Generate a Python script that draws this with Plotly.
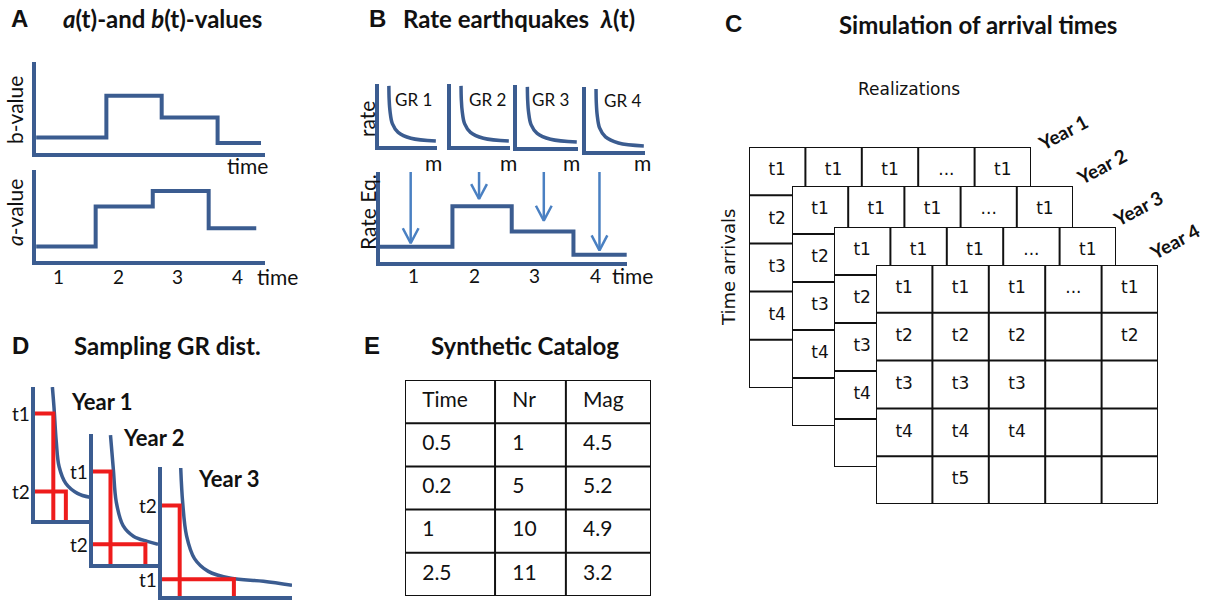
import plotly.graph_objects as go

W, H = 1211, 601

# ------------------------------------------------------------------ data
time_ticks = ["1", "2", "3", "4"]

# A: step functions of b(t) and a(t), normalised units
b_edges = [0.62, 1.80, 2.73, 3.67, 4.40]
b_levels = [0.17, 0.63, 0.39, 0.11]
a_edges = [0.62, 1.62, 2.58, 3.52, 4.32]
a_levels = [0.16, 0.60, 0.77, 0.36]

# B: Gutenberg-Richter curves, magnitude vs normalised rate
gr_labels = ["GR 1", "GR 2", "GR 3", "GR 4"]
gr_mag = [0.17, 0.175, 0.19, 0.23, 0.33, 0.55, 0.98]
gr_rate = [0.97, 0.75, 0.56, 0.36, 0.22, 0.125, 0.08]

# B: resulting earthquake rate per period
rate_edges = [0.44, 1.64, 2.62, 3.64, 4.52]
rate_levels = [0.17, 0.62, 0.34, 0.08]
arrow_times = [0.95, 2.08, 3.15, 4.07]
arrow_tips = [0.21, 0.70, 0.46, 0.13]

# C: simulated arrival times per year (None = cell not shown)
realizations = ["1", "2", "3", "...", "Nr"]
year_names = ["Year 1", "Year 2", "Year 3", "Year 4"]
arrivals_back = [
    ["t1", "t1", "t1", "...", "t1"],
    ["t2", None, None, None, None],
    ["t3", None, None, None, None],
    ["t4", None, None, None, None],
    ["", None, None, None, None],
]
arrivals_year4 = [
    ["t1", "t1", "t1", "...", "t1"],
    ["t2", "t2", "t2", "", "t2"],
    ["t3", "t3", "t3", "", ""],
    ["t4", "t4", "t4", "", ""],
    ["", "t5", "", "", ""],
]
arrivals = [arrivals_back, arrivals_back, arrivals_back, arrivals_year4]

# D: sampled GR distributions per year
sampling_years = ["Year 1", "Year 2", "Year 3"]
d_curve_mag = [
    [0.316, 0.346, 0.386, 0.439, 0.561, 0.772, 1.0],
    [0.269, 0.313, 0.358, 0.463, 0.627, 0.836, 1.0],
    [0.144, 0.159, 0.189, 0.25, 0.356, 0.53, 0.78, 1.0],
]
d_curve_rate = [
    [1.0, 0.844, 0.593, 0.40, 0.274, 0.20, 0.17],
    [0.992, 0.727, 0.477, 0.295, 0.212, 0.174, 0.152],
    [0.992, 0.725, 0.466, 0.29, 0.191, 0.137, 0.115, 0.084],
]
d_sample_names = [["t1", "t2"], ["t1", "t2"], ["t2", "t1"]]
d_sample_rate = [[0.80, 0.215], [0.712, 0.152], [0.702, 0.13]]
d_sample_mag = [[0.333, 0.561], [0.269, 0.806], [0.136, 0.553]]

# E: synthetic catalogue
catalog_header = ["Time", "Nr", "Mag"]
catalog_time = ["0.5", "0.2", "1", "2.5"]
catalog_nr = ["1", "5", "10", "11"]
catalog_mag = ["4.5", "5.2", "4.9", "3.2"]

# ------------------------------------------------------------------ style
BLUE = "#3b5c90"
ARROW_BLUE = "#4a80c2"
RED = "#ee1c1c"
INK = "#111111"
FRAME_W = 4
SANS = "Lato"
CELL = "DejaVu Sans"
LETTER = "Liberation Sans"
TITLE_SIZE = 24
LABEL_SIZE = 21
LETTER_SIZE = 24

fig = go.Figure()
axes_layout = {}
n_axes = [0]


def new_axes(box, xr, yr, frame=False):
    """Add an x/y axis pair placed over a pixel box (left, top, right, bottom)."""
    n_axes[0] += 1
    n = n_axes[0]
    sfx = "" if n == 1 else str(n)
    x0, y0, x1, y1 = box
    off = FRAME_W / 2 if frame else 0
    common = dict(showgrid=False, zeroline=False, showticklabels=False,
                  ticks="", showline=frame, linecolor=BLUE,
                  linewidth=FRAME_W, fixedrange=True)
    axes_layout["xaxis" + sfx] = dict(domain=[(x0 + off) / W, x1 / W],
                                      range=xr, anchor="y" + sfx, **common)
    axes_layout["yaxis" + sfx] = dict(domain=[1 - (y1 - off) / H, 1 - y0 / H],
                                      range=yr, anchor="x" + sfx, **common)
    return "x" + sfx, "y" + sfx


def line(xa, ya, x, y, color=BLUE, width=4, shape="linear", **kw):
    fig.add_trace(go.Scatter(x=x, y=y, xaxis=xa, yaxis=ya, mode="lines",
                             line=dict(color=color, width=width, shape=shape),
                             hoverinfo="skip", showlegend=False,
                             cliponaxis=False, **kw))


annotations = []


def label(text, x, y, size=17, bold=False, family=SANS, angle=0,
          xanchor="center", yanchor="middle", xref="paper", yref="paper",
          xshift=0, color=INK):
    if xref == "paper":
        x = x / W
    if yref == "paper":
        y = 1 - y / H
    if bold:
        text = "<b>" + text + "</b>"
    annotations.append(dict(text=text, x=x, y=y, xref=xref, yref=yref,
                            showarrow=False, textangle=angle,
                            xanchor=xanchor, yanchor=yanchor, xshift=xshift,
                            font=dict(size=size, family=family, color=color)))


# ------------------------------------------------------------------ A
TIME_RANGE_A = [0.617, 4.467]
xa, ya = new_axes((34, 62, 265, 155), TIME_RANGE_A, [0, 1], frame=True)
line(xa, ya, b_edges, b_levels + b_levels[-1:], shape="hv")
xa, ya = new_axes((34, 170, 265, 263), TIME_RANGE_A, [0, 1], frame=True)
line(xa, ya, a_edges, a_levels + a_levels[-1:], shape="hv")
for i, t in enumerate(time_ticks):
    label(t, i + 1, 276, size=19, xref=xa)

label("A", 19, 19, size=LETTER_SIZE, bold=True, family=LETTER)
label("<i>a</i>(t)-and <i>b</i>(t)-values", 162, 19, size=TITLE_SIZE,
      bold=True)
label("b-value", 14, 110, size=LABEL_SIZE, angle=-90)
label("<i>a</i>-value", 14, 213, size=LABEL_SIZE, angle=-90)
label("time", 247, 165, size=LABEL_SIZE)
label("time", 277, 276, size=LABEL_SIZE)

# ------------------------------------------------------------------ B
gr_boxes = [(377, 84, 437, 148), (449, 84, 510, 148),
            (515, 85, 578, 149), (584, 87, 645, 153)]
gr_label_pos = [(413, 100), (488, 100), (550, 100), (622, 101)]
m_label_pos = [(433, 162), (508, 162), (571, 162), (642, 162)]
for box, name, lp, mp in zip(gr_boxes, gr_labels, gr_label_pos, m_label_pos):
    xa, ya = new_axes(box, [0, 1], [0, 1], frame=True)
    line(xa, ya, gr_mag, gr_rate, width=3.5, shape="spline")
    label(name, lp[0], lp[1], size=17)
    label("m", mp[0], mp[1], size=LABEL_SIZE)

TIME_RANGE_B = [0.443, 4.525]
xa, ya = new_axes((378, 172, 627, 264), TIME_RANGE_B, [0, 1], frame=True)
line(xa, ya, rate_edges, rate_levels + rate_levels[-1:], shape="hv")

ARROW_TOP = 1.07
HEAD_DX, HEAD_DY = 0.13, 0.165
ax_x, ax_y = [], []
for t, tip in zip(arrow_times, arrow_tips):
    ax_x += [t, t, None, t - HEAD_DX, t, t + HEAD_DX, None]
    ax_y += [ARROW_TOP, tip, None, tip + HEAD_DY, tip, tip + HEAD_DY, None]
line(xa, ya, ax_x, ax_y, color=ARROW_BLUE, width=2.5, connectgaps=False)
for i, t in enumerate(time_ticks):
    label(t, i + 1, 275, size=19, xref=xa)

label("B", 377, 19, size=LETTER_SIZE, bold=True, family=LETTER)
label("Rate earthquakes  <i>λ</i>(t)", 519, 19, size=TITLE_SIZE, bold=True)
label("rate", 366, 119, size=LABEL_SIZE, angle=-90)
label("Rate Eq.", 367, 212, size=LABEL_SIZE, angle=-90)
label("time", 632, 275, size=LABEL_SIZE)

# ------------------------------------------------------------------ C
year_boxes = [(749, 147, 1031, 388), (792, 186, 1073, 426),
              (834, 227, 1116, 467), (876, 265, 1158, 504)]
year_label_pos = [(1062, 132), (1101, 167), (1137, 208), (1174, 242)]
year_axes = []
for box, grid in zip(year_boxes, arrivals):
    n_rows, n_cols = len(grid), len(grid[0])
    xa, ya = new_axes(box, [0, n_cols], [n_rows, 0])
    year_axes.append((xa, ya))
    # opaque sheet
    line(xa, ya, [0, n_cols, n_cols, 0, 0], [0, 0, n_rows, n_rows, 0],
         width=0, fill="toself", fillcolor="white")
    gx, gy = [], []
    for r in range(n_rows + 1):
        gx += [0, n_cols, None]
        gy += [r, r, None]
    for c in range(n_cols + 1):
        gx += [c, c, None]
        gy += [0, n_rows, None]
    line(xa, ya, gx, gy, color=INK, width=2)
    tx, ty, tt = [], [], []
    for r, row in enumerate(grid):
        for c, cell in enumerate(row):
            if cell:
                tx.append(c + 0.5)
                ty.append(r + 0.5)
                tt.append(cell)
    fig.add_trace(go.Scatter(x=tx, y=ty, text=tt, mode="text", xaxis=xa,
                             yaxis=ya, textfont=dict(size=17, family=CELL,
                                                     color=INK),
                             hoverinfo="skip", showlegend=False,
                             cliponaxis=False))

x1a, y1a = year_axes[0]
for c, name in enumerate(realizations):
    label(name, c + 0.5, -0.4, size=16, family=CELL, xref=x1a, yref=y1a)
for name, pos in zip(year_names, year_label_pos):
    label(name, pos[0], pos[1], size=19, bold=True, angle=-28)

label("C", 734, 24, size=LETTER_SIZE, bold=True, family=LETTER)
label("Simulation of arrival times", 978, 25, size=TITLE_SIZE, bold=True)
label("Realizations", 909, 89, size=17, family=CELL)
label("Time arrivals", 728, 268, size=18, family=CELL, angle=-90)

# ------------------------------------------------------------------ D
d_boxes = [(33, 387, 90, 522), (91, 434, 158, 566), (160, 467, 292, 598)]
d_year_pos = [(0.61, 0.89), (0.43, 0.97), (0.265, 0.91)]
for k in range(3):
    xa, ya = new_axes(d_boxes[k], [0, 1], [0, 1], frame=True)
    line(xa, ya, d_curve_mag[k], d_curve_rate[k], width=3.5,
         shape="spline")
    rx, ry = [], []
    for m, r in zip(d_sample_mag[k], d_sample_rate[k]):
        rx += [0, m, m, None]
        ry += [r, r, 0, None]
    line(xa, ya, rx, ry, color=RED, width=4, connectgaps=False)
    for name, r in zip(d_sample_names[k], d_sample_rate[k]):
        label(name, 0, r, size=19, xref=xa, yref=ya, xanchor="right",
              xshift=-3)
    label(sampling_years[k], d_year_pos[k][0], d_year_pos[k][1], size=22,
          bold=True, xref=xa, yref=ya, xanchor="left")

label("D", 20, 345, size=LETTER_SIZE, bold=True, family=LETTER)
label("Sampling GR dist.", 168, 345, size=TITLE_SIZE, bold=True)

# ------------------------------------------------------------------ E
CAT_EDGES = [0, 0.366, 0.654, 1.0]
CAT_PAD = 0.07
catalog_cols = [catalog_time, catalog_nr, catalog_mag]
n_rows = len(catalog_time) + 1
xa, ya = new_axes((405, 380, 651, 596), [0, 1], [n_rows, 0])
gx, gy = [], []
for r in range(n_rows + 1):
    gx += [0, 1, None]
    gy += [r, r, None]
for e in CAT_EDGES:
    gx += [e, e, None]
    gy += [0, n_rows, None]
line(xa, ya, gx, gy, color=INK, width=2)
tx, ty, tt = [], [], []
for c, (head, col) in enumerate(zip(catalog_header, catalog_cols)):
    for r, cell in enumerate([head] + col):
        tx.append(CAT_EDGES[c] + CAT_PAD)
        ty.append(r + 0.5)
        tt.append(cell)
fig.add_trace(go.Scatter(x=tx, y=ty, text=tt, mode="text",
                         textposition="middle right", xaxis=xa, yaxis=ya,
                         textfont=dict(size=21, family=SANS, color=INK),
                         hoverinfo="skip", showlegend=False,
                         cliponaxis=False))

label("E", 372, 345, size=LETTER_SIZE, bold=True, family=LETTER)
label("Synthetic Catalog", 525, 345, size=TITLE_SIZE, bold=True)

fig.update_layout(
    width=W, height=H, margin=dict(l=0, r=0, t=0, b=0),
    paper_bgcolor="white", plot_bgcolor="rgba(0,0,0,0)",
    showlegend=False, hovermode=False, annotations=annotations,
    **axes_layout,
)
fig.write_html("out.html", config={"displayModeBar": False})
